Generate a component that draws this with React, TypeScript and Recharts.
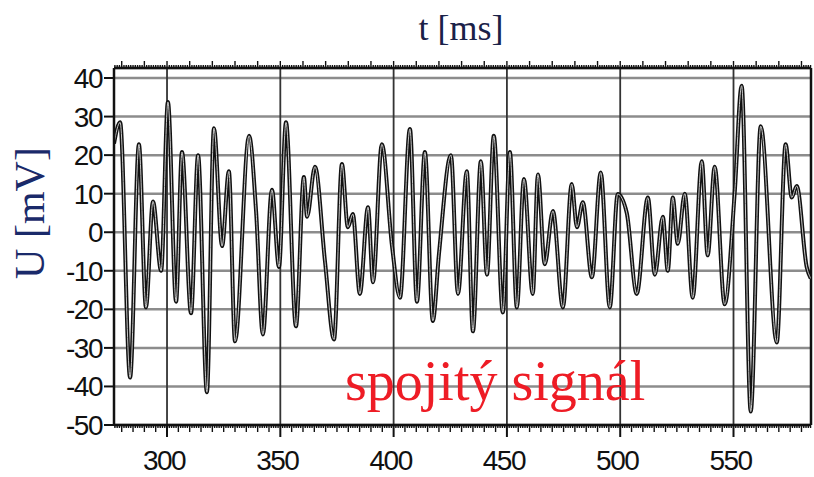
import React from 'react';
import {
  LineChart,
  Line,
  XAxis,
  YAxis,
  CartesianGrid,
  ReferenceLine,
} from 'recharts';

// ─── Data ────────────────────────────────────────────────────────────────────

/** Sample times in ms (turning points of the trace). */
const timeMs = [
  276.6, 279.3, 283.7, 287.6, 290.7, 293.8, 297.4, 300.4, 304.0, 306.6,
  310.6, 313.7, 317.6, 320.7, 324.3, 327.3, 330.0, 336.2, 339.3, 342.3,
  346.3, 349.4, 352.5, 356.9, 360.4, 361.8, 365.3, 369.7, 373.7, 377.2,
  379.8, 382.0, 385.1, 388.7, 390.9, 394.8, 399.3, 402.8, 407.2, 410.3,
  413.8, 417.3, 420.0, 425.3, 428.4, 432.3, 435.0, 438.5, 441.2, 444.2,
  448.2, 451.3, 454.4, 457.5, 461.4, 463.7, 466.7, 470.3, 474.7, 478.6,
  480.9, 483.5, 487.5, 491.4, 495.4, 498.9, 502.9, 507.3, 512.2, 515.3,
  518.8, 521.0, 523.2, 525.4, 528.5, 532.0, 536.0, 538.6, 541.7, 546.1,
  550.5, 553.6, 557.6, 562.0, 569.1, 573.0, 575.7, 577.9, 582.3, 584.1,
];

/** Voltage in mV at each sample. */
const voltageMv = [
  23, 28.5, -37.7, 22.8, -19.5, 8, -10, 33.8, -18, 20.8,
  -21, 20, -41.5, 27, -3.6, 15.8, -28.3, 25, 5.5, -26.5,
  11, -9, 28.5, -24.4, 14.3, 4, 17, -7.5, -27.8, 17.7,
  1.3, 4.7, -16, 6.5, -13, 22.8, -3.6, -17, 26.8, -18,
  20.8, -23, -5.7, 20, -16, 15.8, -25.7, 18.4, -11, 25,
  -20.8, 20.8, -19.5, 13.8, -16, 15, -8.3, 5.5, -19.5, 12.5,
  1.3, 7.8, -11.7, 15.5, -19.5, 9.9, 5, -16, 9, -11,
  4, -10, 9, -3, 10, -17, 18.4, -6, 17, -18.7,
  10, 38, -46.5, 27.5, -28.6, 22.8, 9, 12, -9, -12,
];

const xMajorTicks = [300, 350, 400, 450, 500, 550];
const yTicks = [-50, -40, -30, -20, -10, 0, 10, 20, 30, 40];

const X_MIN = 276.6;
const X_MAX = 584.2;
const Y_MIN = -50;
const Y_MAX = 42.6;

// every millisecond gets a small tick mark on the frame
const xMinorTicks: number[] = [];
for (let t = Math.ceil(X_MIN); t <= Math.floor(X_MAX); t++) xMinorTicks.push(t);

const data = timeMs.map((t, i) => ({ t, u: voltageMv[i] }));

// ─── Styles ───────────────────────────────────────────────────────────────────

const TICK_FONT = '"Liberation Sans", Arial, sans-serif';
const SERIF = '"Liberation Serif", "Times New Roman", serif';

// ─── Tick renderers ───────────────────────────────────────────────────────────

function BottomTick(props: any) {
  const { x, y, payload } = props;
  const v = payload.value as number;
  const major = v % 50 === 0;
  const len = major ? 12 : v % 5 === 0 ? 7 : 3;
  return (
    <g>
      <line x1={x} x2={x} y1={y} y2={y + len} stroke="#111" strokeWidth={major ? 2 : 1.4} />
      {major && (
        <text
          x={x - 3}
          y={y + 45}
          textAnchor="middle"
          fontFamily={TICK_FONT}
          fontSize={28}
          letterSpacing={-1.5}
          fill="#111"
        >
          {v}
        </text>
      )}
    </g>
  );
}

function TopTick(props: any) {
  const { x, y, payload } = props;
  const v = payload.value as number;
  const len = v % 10 === 0 ? 7 : 3;
  return <line x1={x} x2={x} y1={y} y2={y - len} stroke="#111" strokeWidth={1.4} />;
}

// ─── Component ────────────────────────────────────────────────────────────────

export default function App() {
  return (
    <div
      style={{
        position: 'absolute',
        left: 0,
        top: 0,
        width: 814,
        height: 477,
        background: '#fff',
        overflow: 'hidden',
      }}
    >
      <LineChart
        width={814}
        height={477}
        data={data}
        margin={{ top: 58, right: 3, bottom: 0, left: 54 }}
      >
        <CartesianGrid vertical={false} stroke="#8c8c8c" strokeWidth={2.5} />
        <CartesianGrid xAxisId="major" horizontal={false} stroke="#333" strokeWidth={1.8} />
        <XAxis
          dataKey="t"
          type="number"
          domain={[X_MIN, X_MAX]}
          allowDataOverflow
          ticks={xMinorTicks}
          interval={0}
          tick={<BottomTick />}
          tickLine={false}
          tickSize={0}
          tickMargin={0}
          axisLine={{ stroke: '#111', strokeWidth: 2.5 }}
          height={52}
        />
        <XAxis
          xAxisId="top"
          orientation="top"
          dataKey="t"
          type="number"
          domain={[X_MIN, X_MAX]}
          allowDataOverflow
          ticks={xMinorTicks}
          interval={0}
          tick={<TopTick />}
          tickLine={false}
          tickSize={0}
          tickMargin={0}
          axisLine={{ stroke: '#111', strokeWidth: 2.5 }}
          height={10}
        />
        <XAxis
          xAxisId="major"
          dataKey="t"
          type="number"
          domain={[X_MIN, X_MAX]}
          allowDataOverflow
          ticks={xMajorTicks}
          hide
        />
        <YAxis
          type="number"
          domain={[Y_MIN, Y_MAX]}
          allowDataOverflow
          ticks={yTicks}
          interval={0}
          width={60}
          tickSize={10}
          tickMargin={2}
          tickLine={{ stroke: '#111', strokeWidth: 2 }}
          axisLine={{ stroke: '#111', strokeWidth: 2.5 }}
          tick={{ fontFamily: TICK_FONT, fontSize: 28, fill: '#111', letterSpacing: -1.5 }}
        />
        <ReferenceLine x={X_MAX} stroke="#111" strokeWidth={2.5} ifOverflow="visible" />
        <Line
          type="monotone"
          dataKey="u"
          stroke="#111"
          strokeWidth={4}
          dot={false}
          isAnimationActive={false}
        />
        <Line
          type="monotone"
          dataKey="u"
          stroke="#c8c8c8"
          strokeWidth={1}
          dot={false}
          isAnimationActive={false}
        />
      </LineChart>

      <div
        style={{
          position: 'absolute',
          left: 361,
          top: 8,
          width: 200,
          textAlign: 'center',
          fontFamily: SERIF,
          fontSize: 36,
          lineHeight: '40px',
          color: '#1a2148',
        }}
      >
        t [ms]
      </div>
      <div
        style={{
          position: 'absolute',
          left: 30,
          top: 213,
          width: 200,
          marginLeft: -100,
          marginTop: -22,
          textAlign: 'center',
          fontFamily: SERIF,
          fontSize: 42,
          lineHeight: '44px',
          color: '#1a2a6a',
          transform: 'rotate(-90deg)',
          whiteSpace: 'nowrap',
        }}
      >
        U [mV]
      </div>
      <div
        style={{
          position: 'absolute',
          left: 345,
          top: 350,
          fontFamily: SERIF,
          fontSize: 56,
          lineHeight: '62px',
          color: '#ee1c25',
          whiteSpace: 'nowrap',
        }}
      >
        spojitý signál
      </div>
    </div>
  );
}
